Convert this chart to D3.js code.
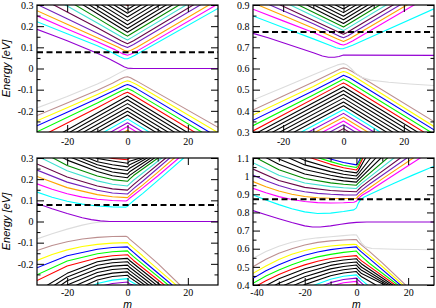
<!DOCTYPE html>
<html>
<head>
<meta charset="utf-8">
<script src="https://cdn.jsdelivr.net/npm/d3@7"></script>
<style>
body{margin:0;background:#fff;}
</style>
</head>
<body>
<div id="chart"></div>
<script>
// Grace default colour names used by the sets
let grace = {black:'#000000', red:'#ff0000', green:'#00ff00', blue:'#0000ff', yellow:'#ffff00', brown:'#bc8f8f',
  grey:'#dcdcdc', violet:'#9400d3', cyan:'#00ffff', magenta:'#ff00ff', orange:'#ffa500', indigo:'#7221bc',
  maroon:'#670748', turquoise:'#40e0d0', green4:'#008b00'};

// ---------- top left ----------
let tlM = [-30, 30];
let tlE = [-0.3, 0.3];
let tlXTicks = [-20, 0, 20];
let tlXMinor = [-10, 10];
let tlYTicks = [-0.2, -0.1, 0, 0.1, 0.2, 0.3];
let tlYMinor = [-0.25, -0.15, -0.05, 0.05, 0.15, 0.25];
let tlFermi = 0.077;
let tlUpperColors = ['violet','cyan','magenta','orange','indigo','maroon','turquoise','green4',
  'black','black','black','black','black','black','black','red'];
let tlUpperLines = [
  [[-30,0.185],[-25,0.158],[-20,0.131],[-15,0.102],[-10,0.072],[-6,0.045],[-3,0.022],[-1,0.007],[0,0.002],[2,0],[30,0]],
  [[-30,0.221],[-20,0.164],[-10,0.107],[-5,0.074],[-2.5,0.055],[-1,0.046],[0,0.046],[1,0.052],[2.5,0.063],[30,0.284]],
  [[-30,0.249],[-20,0.187],[-10,0.126],[-4,0.088],[-1.5,0.069],[0,0.063],[1,0.067],[3,0.081],[30,0.305]],
  [[-30,0.273],[-20,0.209],[-10,0.145],[-3,0.1],[-1,0.085],[0,0.081],[1,0.085],[3,0.099],[30,0.325]],
  [[-30,0.303],[-20,0.235],[-10,0.167],[-2,0.11],[0,0.099],[2,0.113],[30,0.35]],
  [[-30,0.342],[-20,0.267],[-10,0.192],[-2,0.13],[0,0.117],[2,0.131],[30,0.37]],
  [[-30,0.375],[-20,0.295],[-10,0.215],[-1.5,0.145],[0,0.135],[1.5,0.147],[30,0.39]],
  [[-30,0.408],[-20,0.323],[-10,0.238],[-1,0.161],[0,0.153],[1,0.162],[30,0.41]],
  [[-30,0.435],[0,0.171],[30,0.431]],
  [[-30,0.453],[0,0.189],[30,0.449]],
  [[-30,0.471],[0,0.207],[30,0.467]],
  [[-30,0.489],[0,0.225],[30,0.485]],
  [[-30,0.507],[0,0.243],[30,0.503]],
  [[-30,0.525],[0,0.261],[30,0.521]],
  [[-30,0.543],[0,0.279],[30,0.539]],
  [[-30,0.561],[0,0.297],[30,0.557]]
];
let tlLowerColors = ['grey','brown','yellow','blue','green','red',
  'black','black','black','black','black','black','cyan','violet','magenta','orange'];
let tlLowerLines = [
  [[-30,-0.186],[-25,-0.159],[-20,-0.132],[-15,-0.103],[-10,-0.073],[-6,-0.046],[-3,-0.023],[-1,-0.008],[0,-0.002],[2,0],[30,0]],
  [[-30,-0.222],[-20,-0.163],[-10,-0.103],[-5,-0.07],[-2.5,-0.051],[-1,-0.041],[0,-0.039],[1,-0.044],[2.5,-0.055],[30,-0.278]],
  [[-30,-0.247],[-20,-0.185],[-10,-0.123],[-4,-0.084],[-1.5,-0.065],[0,-0.058],[1,-0.062],[3,-0.076],[30,-0.303]],
  [[-30,-0.271],[-20,-0.207],[-10,-0.142],[-3,-0.095],[-1,-0.08],[0,-0.076],[1,-0.08],[3,-0.095],[30,-0.325]],
  [[-30,-0.299],[-10,-0.163],[-2,-0.105],[0,-0.094],[2,-0.108],[30,-0.346]],
  [[-30,-0.33],[-10,-0.185],[-1.5,-0.121],[0,-0.112],[1.5,-0.123],[30,-0.367]],
  [[-30,-0.37],[0,-0.13],[30,-0.39]],
  [[-30,-0.388],[0,-0.148],[30,-0.408]],
  [[-30,-0.406],[0,-0.166],[30,-0.426]],
  [[-30,-0.424],[0,-0.184],[30,-0.444]],
  [[-30,-0.442],[0,-0.202],[30,-0.462]],
  [[-30,-0.46],[0,-0.22],[30,-0.48]],
  [[-30,-0.478],[0,-0.238],[30,-0.498]],
  [[-30,-0.496],[0,-0.256],[30,-0.516]],
  [[-30,-0.514],[0,-0.274],[30,-0.534]],
  [[-30,-0.532],[0,-0.292],[30,-0.552]]
];

// ---------- top right ----------
let trM = [-30, 30];
let trE = [0.3, 0.9];
let trXTicks = [-20, 0, 20];
let trXMinor = [-10, 10];
let trYTicks = [0.3, 0.4, 0.5, 0.6, 0.7, 0.8, 0.9];
let trYMinor = [0.35, 0.45, 0.55, 0.65, 0.75, 0.85];
let trFermi = 0.773;
let trUpperColors = ['violet','cyan','magenta','orange','indigo','maroon','turquoise','green4',
  'black','black','black','black','black','black'];
let trUpperLines = [
  [[-30,0.766],[-25,0.745],[-20,0.722],[-15,0.698],[-10,0.674],[-7,0.659],[-5,0.653],[-3,0.653],[-1.5,0.657],[0,0.664],[3,0.663],[30,0.662]],
  [[-30,0.848],[-20,0.794],[-10,0.74],[-5,0.712],[-2.5,0.698],[-1,0.693],[0,0.694],[1,0.699],[3,0.71],[30,0.882]],
  [[-30,0.88],[-20,0.825],[-10,0.77],[-3,0.726],[-1,0.714],[0,0.711],[1,0.716],[3,0.73],[30,0.955]],
  [[-30,0.91],[-20,0.85],[-10,0.79],[-2,0.739],[0,0.728],[2,0.741],[30,0.975]],
  [[-30,0.935],[-20,0.873],[-10,0.811],[-1.5,0.753],[0,0.745],[1.5,0.755],[30,0.995]],
  [[-30,0.96],[-1,0.768],[0,0.762],[1,0.769],[30,1.015]],
  [[-30,0.985],[0,0.779],[30,1.035]],
  [[-30,1.005],[0,0.796],[30,1.055]],
  [[-30,1.028],[0,0.813],[30,1.073]],
  [[-30,1.045],[0,0.83],[30,1.09]],
  [[-30,1.062],[0,0.847],[30,1.107]],
  [[-30,1.079],[0,0.864],[30,1.124]],
  [[-30,1.096],[0,0.881],[30,1.141]],
  [[-30,1.113],[0,0.898],[30,1.158]]
];
let trLowerColors = ['grey','brown','yellow','blue','green','red',
  'black','black','black','black','black','black','cyan','violet','orange','magenta','indigo','maroon'];
let trLowerLines = [
  [[-30,0.451],[-20,0.51],[-10,0.57],[-5,0.6],[-2,0.617],[0,0.623],[1,0.618],[2.5,0.6],[4,0.578],[6,0.558],[9,0.545],[15,0.535],[22,0.527],[30,0.52]],
  [[-30,0.404],[-20,0.47],[-10,0.536],[-3,0.585],[-1,0.599],[0,0.603],[1,0.6],[3,0.585],[30,0.349]],
  [[-30,0.38],[-10,0.515],[-3,0.567],[-1,0.581],[0,0.586],[1,0.582],[3,0.567],[30,0.326]],
  [[-30,0.355],[-10,0.495],[-2,0.553],[0,0.568],[2,0.556],[30,0.31]],
  [[-30,0.33],[-10,0.475],[-1.5,0.539],[0,0.55],[1.5,0.54],[30,0.29]],
  [[-30,0.305],[-1,0.525],[0,0.532],[1,0.524],[30,0.27]],
  [[-30,0.286],[0,0.514],[30,0.252]],
  [[-30,0.268],[0,0.496],[30,0.234]],
  [[-30,0.25],[0,0.478],[30,0.216]],
  [[-30,0.232],[0,0.46],[30,0.198]],
  [[-30,0.214],[0,0.442],[30,0.18]],
  [[-30,0.196],[0,0.424],[30,0.162]],
  [[-30,0.178],[0,0.406],[30,0.144]],
  [[-30,0.16],[0,0.388],[30,0.126]],
  [[-30,0.142],[0,0.37],[30,0.108]],
  [[-30,0.124],[0,0.352],[30,0.09]],
  [[-30,0.106],[0,0.334],[30,0.072]],
  [[-30,0.088],[0,0.316],[30,0.054]]
];

// ---------- bottom left ----------
let blM = [-30, 30];
let blE = [-0.3, 0.3];
let blXTicks = [-20, 0, 20];
let blXMinor = [-10, 10];
let blYTicks = [-0.2, -0.1, 0, 0.1, 0.2, 0.3];
let blYMinor = [-0.25, -0.15, -0.05, 0.05, 0.15, 0.25];
let blFermi = 0.078;
let blUpperColors = ['violet','cyan','magenta','orange','indigo','maroon','turquoise','green4',
  'black','black','black','black','black','red'];
let blUpperLines = [
  [[-30,0.085],[-25,0.06],[-20,0.038],[-15,0.018],[-12,0.009],[-9,0.003],[-6,0],[30,0]],
  [[-30,0.139],[-25,0.115],[-20,0.096],[-15,0.082],[-10,0.073],[-5,0.069],[-0.5,0.068],[0,0.072],[0.7,0.082],[2,0.098],[5,0.132],[10,0.193],[18.6,0.3],[22,0.343]],
  [[-30,0.178],[-25,0.152],[-20,0.131],[-15,0.115],[-10,0.105],[-5,0.099],[-0.5,0.097],[0,0.1],[0.7,0.11],[2,0.124],[5,0.158],[10,0.215],[17,0.3],[22,0.36]],
  [[-30,0.213],[-20,0.16],[-10,0.127],[-5,0.117],[0,0.113],[0.7,0.122],[2,0.138],[5,0.172],[10,0.232],[15.5,0.3],[22,0.38]],
  [[-30,0.243],[-20,0.186],[-10,0.148],[-5,0.135],[0,0.13],[0.7,0.139],[2,0.155],[5,0.19],[14,0.3],[20,0.375]],
  [[-30,0.272],[-20,0.21],[-10,0.168],[-5,0.154],[0,0.148],[0.7,0.158],[2,0.174],[5,0.21],[12.7,0.3],[20,0.39]],
  [[-30,0.31],[-20,0.24],[-10,0.192],[-5,0.176],[0,0.168],[0.7,0.178],[2,0.195],[11.4,0.3],[20,0.4]],
  [[-30,0.34],[-20,0.265],[-10,0.215],[-5,0.198],[0,0.19],[0.7,0.2],[2,0.217],[10.1,0.3],[20,0.41]],
  [[-30,0.37],[-20,0.29],[-10,0.236],[-5,0.216],[0,0.207],[0.7,0.218],[8.9,0.3],[20,0.42]],
  [[-30,0.4],[-20,0.31],[-10,0.254],[-5,0.234],[0,0.224],[0.7,0.235],[7.7,0.3],[20,0.43]],
  [[-30,0.42],[-20,0.325],[-10,0.268],[-5,0.251],[0,0.241],[0.7,0.252],[6.5,0.3],[20,0.44]],
  [[-30,0.44],[-20,0.34],[-10,0.282],[-5,0.268],[0,0.258],[0.7,0.268],[5.4,0.3],[20,0.45]],
  [[-30,0.46],[-20,0.36],[-10,0.298],[-5,0.286],[0,0.275],[0.7,0.285],[4.3,0.3],[20,0.46]],
  [[-30,0.48],[-20,0.38],[-10,0.316],[-5,0.298],[0,0.292],[0.7,0.3],[3.2,0.32],[20,0.47]]
];
let blLowerColors = ['grey','brown','yellow','blue','green','red',
  'black','black','black','black','black','black','cyan','violet'];
let blLowerLines = [
  [[-30,-0.082],[-25,-0.058],[-20,-0.036],[-15,-0.017],[-12,-0.008],[-9,-0.002],[-6,0],[30,0]],
  [[-30,-0.137],[-25,-0.113],[-20,-0.096],[-15,-0.083],[-10,-0.075],[-5,-0.071],[-0.5,-0.07],[0,-0.073],[0.7,-0.083],[2,-0.099],[5,-0.135],[10,-0.198],[17.4,-0.3],[22,-0.36]],
  [[-30,-0.184],[-25,-0.156],[-20,-0.134],[-15,-0.118],[-10,-0.108],[-5,-0.102],[0,-0.1],[0.7,-0.11],[2,-0.126],[5,-0.162],[10,-0.225],[16.1,-0.3],[22,-0.37]],
  [[-30,-0.219],[-20,-0.162],[-10,-0.131],[-5,-0.123],[0,-0.12],[0.7,-0.13],[2,-0.146],[5,-0.183],[14.8,-0.3],[22,-0.38]],
  [[-30,-0.252],[-20,-0.187],[-10,-0.152],[-5,-0.143],[0,-0.139],[0.7,-0.149],[2,-0.166],[13.5,-0.3],[22,-0.39]],
  [[-30,-0.279],[-20,-0.21],[-10,-0.172],[-5,-0.162],[0,-0.157],[0.7,-0.167],[2,-0.184],[12.2,-0.3],[22,-0.4]],
  [[-30,-0.33],[-20,-0.245],[-10,-0.19],[-5,-0.179],[0,-0.174],[0.7,-0.184],[10.9,-0.3],[22,-0.42]],
  [[-30,-0.355],[-20,-0.262],[-10,-0.207],[-5,-0.195],[0,-0.19],[0.7,-0.2],[9.6,-0.3],[22,-0.43]],
  [[-30,-0.38],[-20,-0.28],[-10,-0.224],[-5,-0.211],[0,-0.206],[0.7,-0.216],[8.3,-0.3],[22,-0.44]],
  [[-30,-0.4],[-20,-0.3],[-10,-0.241],[-5,-0.227],[0,-0.222],[0.7,-0.232],[7,-0.3],[22,-0.45]],
  [[-30,-0.42],[-20,-0.32],[-10,-0.258],[-5,-0.244],[0,-0.238],[0.7,-0.248],[5.7,-0.3],[22,-0.46]],
  [[-30,-0.44],[-20,-0.34],[-10,-0.276],[-5,-0.26],[0,-0.254],[0.7,-0.264],[4.4,-0.3],[22,-0.47]],
  [[-30,-0.46],[-20,-0.36],[-10,-0.293],[-5,-0.277],[0,-0.27],[0.7,-0.28],[3.1,-0.3],[10,-0.37]],
  [[-30,-0.48],[-20,-0.38],[-10,-0.31],[-5,-0.293],[0,-0.286],[0.7,-0.295],[1.8,-0.3],[10,-0.38]]
];

// ---------- bottom right ----------
let brM = [-40, 30];
let brE = [0.4, 1.1];
let brXTicks = [-40, -20, 0, 20];
let brXMinor = [-30, -10, 10];
let brYTicks = [0.4, 0.5, 0.6, 0.7, 0.8, 0.9, 1.0, 1.1];
let brYMinor = [0.45, 0.55, 0.65, 0.75, 0.85, 0.95, 1.05];
let brFermi = 0.872;
let brUpperColors = ['violet','cyan','magenta','orange','indigo','maroon','turquoise','green4',
  'black','black','black','black','red','green','blue'];
let brUpperLines = [
  [[-40,0.81],[-35,0.787],[-30,0.765],[-25,0.744],[-20,0.726],[-17,0.72],[-14,0.72],[-10,0.726],[-6,0.735],[-3,0.741],[0,0.745],[4,0.747],[30,0.747]],
  [[-40,0.896],[-35,0.868],[-30,0.843],[-25,0.82],[-20,0.803],[-15,0.794],[-10,0.796],[-5,0.805],[-1,0.814],[0,0.825],[0.7,0.85],[1.5,0.868],[3,0.885],[8,0.918],[15,0.963],[22,1.007],[30,1.055]],
  [[-40,0.933],[-35,0.908],[-30,0.887],[-25,0.871],[-20,0.86],[-15,0.854],[-10,0.852],[-5,0.853],[-1,0.856],[0,0.862],[0.7,0.876],[2,0.893],[5,0.918],[10,0.965],[20,1.057],[25,1.103],[30,1.15]],
  [[-40,0.97],[-35,0.942],[-30,0.918],[-25,0.9],[-20,0.888],[-15,0.881],[-10,0.878],[-5,0.877],[0,0.878],[0.7,0.89],[2,0.905],[5,0.935],[10,0.985],[22,1.1],[26,1.14]],
  [[-40,1.006],[-35,0.975],[-30,0.948],[-25,0.928],[-20,0.914],[-15,0.905],[-10,0.9],[-5,0.897],[0,0.896],[0.7,0.907],[2,0.923],[5,0.955],[19.5,1.1],[25,1.155]],
  [[-40,1.039],[-30,0.976],[-20,0.938],[-10,0.921],[-5,0.917],[0,0.914],[0.7,0.925],[2,0.942],[5,0.975],[17,1.1],[25,1.18]],
  [[-40,1.074],[-30,1.005],[-20,0.962],[-10,0.942],[-5,0.936],[0,0.932],[0.7,0.943],[2,0.96],[14.5,1.1],[25,1.21]],
  [[-40,1.11],[-30,1.035],[-20,0.987],[-10,0.963],[-5,0.955],[0,0.95],[0.7,0.961],[2,0.978],[12,1.1],[25,1.24]],
  [[-40,1.14],[-30,1.065],[-20,1.012],[-10,0.984],[-5,0.974],[0,0.967],[0.7,0.978],[9.5,1.1],[25,1.27]],
  [[-40,1.17],[-30,1.095],[-20,1.037],[-10,1.005],[-5,0.992],[0,0.984],[0.7,0.995],[7.5,1.1],[25,1.3]],
  [[-40,1.2],[-30,1.125],[-20,1.062],[-10,1.025],[-5,1.01],[0,1.001],[0.7,1.012],[5.5,1.1],[25,1.33]],
  [[-30,1.15],[-20,1.087],[-10,1.045],[-5,1.028],[0,1.018],[0.7,1.029],[3.5,1.1],[25,1.36]],
  [[-30,1.17],[-20,1.112],[-10,1.065],[-5,1.046],[0,1.034],[0.7,1.046],[2.5,1.1],[10,1.2]],
  [[-30,1.18],[-20,1.125],[-10,1.08],[-5,1.06],[0,1.048],[0.7,1.06],[2,1.1],[10,1.21]],
  [[-30,1.19],[-20,1.14],[-10,1.095],[-5,1.075],[0,1.062],[0.7,1.075],[2,1.11],[10,1.22]]
];
let brLowerColors = ['grey','brown','yellow','blue','green','red',
  'black','black','black','black','black','cyan','violet','magenta','orange'];
let brLowerLines = [
  [[-40,0.547],[-35,0.585],[-30,0.614],[-25,0.636],[-20,0.651],[-15,0.66],[-10,0.666],[-5,0.672],[-1,0.677],[0,0.676],[1,0.655],[2,0.63],[3.5,0.61],[6,0.601],[15,0.597],[30,0.594]],
  [[-40,0.501],[-35,0.542],[-30,0.575],[-25,0.6],[-20,0.62],[-15,0.635],[-10,0.643],[-5,0.648],[-1,0.651],[0,0.65],[0.7,0.638],[2,0.62],[5,0.585],[10,0.522],[19,0.4],[25,0.32]],
  [[-40,0.464],[-35,0.505],[-30,0.54],[-25,0.569],[-20,0.59],[-15,0.605],[-10,0.615],[-5,0.621],[-1,0.624],[0,0.623],[0.7,0.612],[2,0.596],[5,0.562],[10,0.502],[18,0.4],[25,0.31]],
  [[-40,0.437],[-35,0.478],[-30,0.512],[-25,0.541],[-20,0.564],[-15,0.582],[-10,0.595],[-5,0.604],[-1,0.609],[0,0.61],[0.7,0.598],[2,0.581],[5,0.545],[10,0.485],[17,0.4],[25,0.3]],
  [[-40,0.409],[-35,0.45],[-30,0.483],[-25,0.512],[-20,0.536],[-15,0.555],[-10,0.569],[-5,0.58],[0,0.587],[0.7,0.575],[2,0.558],[5,0.52],[16,0.4],[25,0.3]],
  [[-40,0.384],[-35,0.424],[-30,0.458],[-25,0.487],[-20,0.511],[-15,0.531],[-10,0.546],[-5,0.556],[0,0.562],[0.7,0.55],[2,0.533],[15,0.4],[25,0.28]],
  [[-40,0.36],[-30,0.434],[-20,0.49],[-10,0.527],[-5,0.538],[0,0.545],[0.7,0.533],[2,0.516],[14,0.4],[25,0.27]],
  [[-40,0.335],[-30,0.41],[-20,0.468],[-10,0.508],[-5,0.52],[0,0.527],[0.7,0.515],[2,0.498],[13,0.4],[25,0.26]],
  [[-40,0.31],[-30,0.386],[-20,0.446],[-10,0.489],[-5,0.502],[0,0.51],[0.7,0.498],[2,0.481],[12,0.4],[25,0.25]],
  [[-40,0.285],[-30,0.362],[-20,0.424],[-10,0.47],[-5,0.484],[0,0.492],[0.7,0.48],[2,0.463],[11,0.4],[25,0.24]],
  [[-40,0.26],[-30,0.338],[-20,0.402],[-10,0.451],[-5,0.466],[0,0.474],[0.7,0.462],[2,0.445],[10,0.38],[25,0.23]],
  [[-30,0.31],[-20,0.38],[-10,0.432],[-5,0.448],[0,0.456],[0.7,0.444],[2,0.427],[6,0.38],[25,0.2]],
  [[-30,0.29],[-20,0.358],[-10,0.413],[-5,0.43],[0,0.438],[0.7,0.426],[2,0.41],[5,0.37],[25,0.18]],
  [[-20,0.33],[-10,0.394],[-5,0.412],[0,0.42],[0.7,0.408],[2,0.392],[10,0.3]],
  [[-20,0.31],[-10,0.375],[-5,0.394],[0,0.402],[0.7,0.39],[2,0.374],[10,0.28]]
];

let panels = [
  {id:'tl', left:37, top:5, width:181, height:127, m:tlM, e:tlE, xTicks:tlXTicks, xMinor:tlXMinor, yTicks:tlYTicks, yMinor:tlYMinor,
   fermi:tlFermi, bands:[[tlLowerLines, tlLowerColors], [tlUpperLines, tlUpperColors]], yLabel:true, xLabel:false},
  {id:'tr', left:253, top:5, width:181, height:127, m:trM, e:trE, xTicks:trXTicks, xMinor:trXMinor, yTicks:trYTicks, yMinor:trYMinor,
   fermi:trFermi, bands:[[trLowerLines, trLowerColors], [trUpperLines, trUpperColors]], yLabel:false, xLabel:false},
  {id:'bl', left:37, top:158, width:181, height:127, m:blM, e:blE, xTicks:blXTicks, xMinor:blXMinor, yTicks:blYTicks, yMinor:blYMinor,
   fermi:blFermi, bands:[[blLowerLines, blLowerColors], [blUpperLines, blUpperColors]], yLabel:true, xLabel:true},
  {id:'br', left:253, top:158, width:181, height:127, m:brM, e:brE, xTicks:brXTicks, xMinor:brXMinor, yTicks:brYTicks, yMinor:brYMinor,
   fermi:brFermi, bands:[[brLowerLines, brLowerColors], [brUpperLines, brUpperColors]], yLabel:false, xLabel:true}
];

let svg = d3.select('#chart').append('svg')
  .attr('width', 436)
  .attr('height', 308)
  .style('background', '#fff');

let fmt = d => String(Math.round(d * 100) / 100);
let serif = '"Liberation Serif","Times New Roman",serif';
let sans = '"Liberation Sans",Arial,sans-serif';

panels.forEach(function(p){
  let g = svg.append('g').attr('transform', 'translate(' + p.left + ',' + p.top + ')');
  let x = d3.scaleLinear().domain(p.m).range([0, p.width]);
  let y = d3.scaleLinear().domain(p.e).range([p.height, 0]);

  g.append('clipPath').attr('id', 'clip-' + p.id)
    .append('rect').attr('width', p.width).attr('height', p.height);

  let plot = g.append('g').attr('clip-path', 'url(#clip-' + p.id + ')');
  let line = d3.line().x(d => x(d[0])).y(d => y(d[1]));

  p.bands.forEach(function(band){
    let lines = band[0], cols = band[1];
    // draw the far levels first, the ones at the gap last
    for (let i = lines.length - 1; i >= 0; i--) {
      plot.append('path')
        .attr('d', line(lines[i]))
        .attr('fill', 'none')
        .attr('stroke', grace[cols[i]])
        .attr('stroke-width', 1.1)
        .attr('stroke-linejoin', 'round');
    }
  });

  plot.append('line')
    .attr('x1', x(p.m[0])).attr('x2', x(p.m[1]))
    .attr('y1', y(p.fermi)).attr('y2', y(p.fermi))
    .attr('stroke', '#000')
    .attr('stroke-width', 2)
    .attr('stroke-dasharray', '6,3.5');

  // inward ticks on all four sides
  let axes = [
    [d3.axisBottom(x), 'translate(0,' + p.height + ')', p.xTicks, p.xMinor, true],
    [d3.axisTop(x), null, p.xTicks, p.xMinor, false],
    [d3.axisLeft(y), null, p.yTicks, p.yMinor, true],
    [d3.axisRight(y), 'translate(' + p.width + ',0)', p.yTicks, p.yMinor, false]
  ];
  axes.forEach(function(a, k){
    let major = g.append('g');
    let minor = g.append('g');
    if (a[1]) { major.attr('transform', a[1]); minor.attr('transform', a[1]); }
    let pad = k == 0 ? (p.xLabel ? 3.5 : 6) : 3.5;
    major.call(a[0].tickValues(a[2]).tickSize(-7).tickSizeOuter(0).tickPadding(pad)
      .tickFormat(a[4] ? fmt : ''));
    minor.call(a[0].tickValues(a[3]).tickSize(-3.5).tickSizeOuter(0).tickFormat(''));
    [major, minor].forEach(s => s.select('.domain').remove());
    major.attr('font-family', serif).attr('font-size', 10);
    major.selectAll('text').attr('fill', '#000');
    // keep the first bottom label clear of the lowest energy label
    if (k == 0 && p.m[0] == -40) {
      major.selectAll('text').filter(d => d == p.m[0]).attr('dx', 3.5);
    }
  });

  g.append('rect')
    .attr('width', p.width).attr('height', p.height)
    .attr('fill', 'none')
    .attr('stroke', '#000')
    .attr('stroke-width', 1.2);

  if (p.yLabel) {
    g.append('text')
      .attr('transform', 'translate(' + (10 - p.left) + ',' + (p.height / 2) + ') rotate(-90)')
      .attr('text-anchor', 'middle')
      .attr('font-family', sans)
      .attr('font-style', 'italic')
      .attr('font-size', 11)
      .text('Energy [eV]');
  }
  if (p.xLabel) {
    g.append('text')
      .attr('x', x(0))
      .attr('y', p.height + 22.5)
      .attr('text-anchor', 'middle')
      .attr('font-family', sans)
      .attr('font-style', 'italic')
      .attr('font-size', 10.5)
      .text('m');
  }
});
</script>
</body>
</html>
